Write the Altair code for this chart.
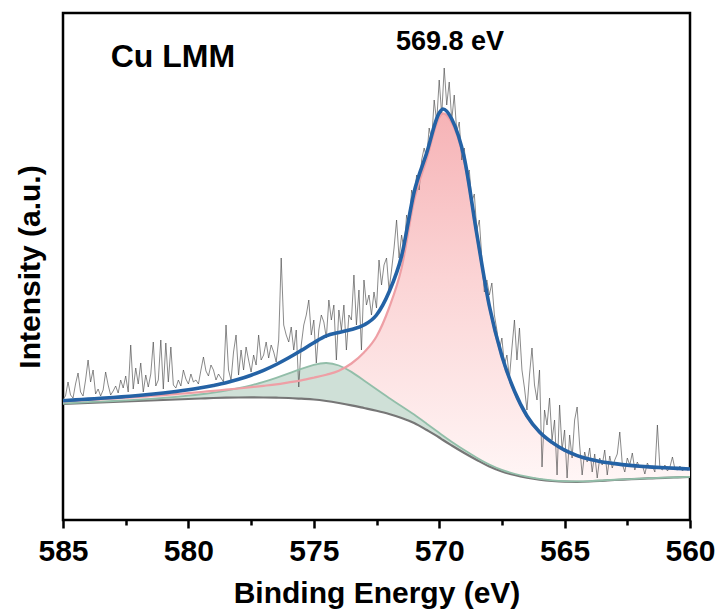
import altair as alt
import pandas as pd

# ---------------- data ----------------
# fitted curves, binding energy grid (eV)
E_fit = [585, 584.5, 584, 583.5, 583, 582.5, 582, 581.5, 581, 580.5, 580,
         579.5, 579, 578.5, 578, 577.5, 577, 576.5, 576, 575.5, 575,
         574.5, 574, 573.5, 573, 572.5, 572, 571.5, 571, 570.5, 570,
         569.85, 569.5, 569, 568.5, 568, 567.5, 567, 566.5, 566, 565.5,
         565, 564.5, 564, 563.5, 563, 562.5, 562, 561.5, 561, 560.5, 560]

background = [116, 116.5, 117, 117.5, 118, 118.5, 119, 119.5, 120, 120.5, 121,
              121.5, 122, 122.3, 122.5, 122.6, 122.5, 122.3, 122, 121.3, 120.5,
              119, 117, 114.7, 112, 109.2, 106, 102, 97, 90, 82.5,
              80, 74.5, 67, 60, 53.5, 48.5, 45, 42.3, 40.3, 39,
              38.3, 38.2, 38.5, 39.2, 40, 40.6, 41.2, 41.7, 42.2, 42.6, 43]

peak_main = [118.7, 119.4, 120.1, 120.8, 121.5, 122.3, 123.1, 124.0, 124.9, 125.9, 126.9,
             128.0, 129.2, 130.3, 131.5, 132.8, 134.2, 135.7, 137.6, 139.6, 142.3,
             145.3, 149.3, 156.5, 167.5, 183.5, 212, 252, 319.4, 360.7, 402.3,
             406.7, 397.4, 359.2, 283.8, 212.3, 162.6, 127.9, 103.1, 87.3, 77,
             69.3, 64, 60.3, 57.8, 56.1, 54.7, 53.6, 52.7, 52, 51.4, 50.9]

peak_sat = [116.6, 117.2, 117.8, 118.4, 119, 119.7, 120.4, 121.2, 122.1, 123.1, 124.3,
            125.7, 127.4, 129.3, 131.7, 134.6, 138, 142.1, 146.6, 151.3, 155.5,
            157.8, 155.2, 148.5, 139.5, 130.7, 122, 113.8, 105.6, 96.3, 87.2,
            84.3, 78.1, 69.8, 62.2, 55.2, 49.9, 46.1, 43.2, 41, 39.6,
            38.8, 38.6, 38.85, 39.5, 40.27, 40.84, 41.42, 41.9, 42.38, 42.76, 43.15]

envelope = [119.3, 120.1, 120.9, 121.7, 122.5, 123.5, 124.5, 125.7, 127, 128.5, 130.2,
            132.2, 134.6, 137.3, 140.7, 144.8, 149.7, 155.5, 162.2, 169.6, 177.3,
            184.1, 187.5, 190.5, 195, 205, 228, 264, 328, 367, 407,
            411, 401, 362, 286, 214, 164, 129, 104, 88, 77.6,
            69.8, 64.4, 60.65, 58.1, 56.4, 54.9, 53.8, 52.9, 52.2, 51.6, 51.05]

# raw spectrum, 0.1 eV steps from 585.0 down to 560.0
raw = [121, 124, 138, 125, 122, 136, 147, 128, 124, 140,
       160, 138, 150, 126, 131, 124, 130, 148, 135, 125,
       129, 134, 127, 140, 132, 144, 128, 175, 131, 152,
       136, 157, 128, 145, 133, 146, 178, 134, 140, 180,
       131, 177, 138, 173, 135, 132, 140, 134, 150, 141,
       136, 146, 138, 140, 136, 150, 163, 149, 144, 155,
       150, 140, 146, 142, 138, 195, 150, 140, 168, 185,
       145, 170, 150, 173, 160, 148, 165, 155, 185, 160,
       165, 178, 162, 175, 168, 158, 180, 262, 195, 185,
       178, 193, 170, 190, 133, 175, 195, 205, 220, 185,
       200, 157, 190, 205, 198, 182, 220, 200, 215, 160,
       210, 190, 215, 170, 205, 200, 245, 195, 230, 170,
       240, 215, 225, 205, 228, 212, 260, 235, 255, 262,
       230, 250, 272, 300, 262, 285, 270, 305, 292, 330,
       320, 345, 330, 360, 372, 362, 392, 380, 420, 398,
       440, 405, 452, 415, 438, 400, 425, 388, 398, 360,
       372, 345, 350, 318, 326, 290, 300, 262, 228, 240,
       225, 237, 205, 190, 170, 182, 155, 165, 142, 172,
       200, 160, 192, 150, 132, 110, 145, 172, 135, 120,
       150, 53, 110, 95, 122, 80, 100, 45, 115, 70,
       90, 42, 85, 62, 100, 113, 75, 45, 68, 58,
       72, 48, 66, 42, 62, 55, 70, 45, 64, 52,
       60, 66, 88, 56, 48, 62, 55, 67, 50, 58,
       52, 55, 46, 57, 52, 54, 48, 95, 52, 50,
       55, 49, 53, 63, 51, 50, 54, 49, 52, 50,
       51]
raw_E = [round(585 - 0.1 * i, 1) for i in range(len(raw))]

major_ticks = [585, 580, 575, 570, 565, 560]
minor_ticks = [582.5, 577.5, 572.5, 567.5, 562.5]

labels_text = ["Cu LMM", "569.8 eV"]
labels_E = [583.1, 569.57]
labels_I = [463, 478]

# ---------------- chart ----------------
fit = pd.DataFrame({"E": E_fit, "bg": background, "pink": peak_main,
                    "green": peak_sat, "blue": envelope})
rawdf = pd.DataFrame({"E": raw_E, "I": raw})

FONT = "Liberation Sans"
xs = alt.Scale(domain=[560, 585], reverse=True, nice=False, zero=False)
ys = alt.Scale(domain=[0, 507], nice=False, zero=False)

x_none = alt.X("E:Q", scale=xs, axis=None)

main_x_axis = alt.Axis(values=major_ticks, format="d", orient="bottom", domain=False,
                       grid=False, tickSize=8, tickWidth=2.5, tickColor="black",
                       labelFontSize=30, labelFont=FONT, labelFontWeight="bold",
                       labelColor="black", labelPadding=8, labelFlush=False,
                       title="Binding Energy (eV)", titleFontSize=30, titleFont=FONT,
                       titleFontWeight="bold", titleColor="black", titlePadding=12)
minor_x_axis = alt.Axis(values=minor_ticks, orient="bottom", domain=False, grid=False,
                        labels=False, tickSize=5, tickWidth=2.5, tickColor="black",
                        title="")
y_axis = alt.Axis(orient="left", domain=False, ticks=False, labels=False, grid=False,
                  title="Intensity (a.u.)", titleFontSize=30, titleFont=FONT,
                  titleFontWeight="bold", titleColor="black", titlePadding=18)

pink_grad = alt.Gradient(gradient="linear",
                         stops=[alt.GradientStop(color="#f6b3b6", offset=0),
                                alt.GradientStop(color="#fbd4d5", offset=0.45),
                                alt.GradientStop(color="#fff6f6", offset=1)],
                         x1=1, x2=1, y1=0, y2=1)

pink_area = alt.Chart(fit).mark_area(color=pink_grad, interpolate="monotone").encode(
    x=x_none, y=alt.Y("pink:Q", scale=ys, axis=y_axis), y2="bg:Q")
green_area = alt.Chart(fit).mark_area(color="#cfe0d7", interpolate="basis").encode(
    x=x_none, y=alt.Y("green:Q", scale=ys, axis=None), y2="bg:Q")
raw_line = alt.Chart(rawdf).mark_line(color="#4a4a4a", strokeWidth=0.65).encode(
    x=alt.X("E:Q", scale=xs, axis=main_x_axis), y=alt.Y("I:Q", scale=ys, axis=None))
bg_line = alt.Chart(fit).mark_line(color="#767676", strokeWidth=2.2, interpolate="monotone").encode(
    x=alt.X("E:Q", scale=xs, axis=minor_x_axis), y=alt.Y("bg:Q", scale=ys, axis=None))
green_line = alt.Chart(fit).mark_line(color="#92bea9", strokeWidth=1.8, interpolate="basis").encode(
    x=x_none, y=alt.Y("green:Q", scale=ys, axis=None))
pink_line = alt.Chart(fit).mark_line(color="#ee9fa5", strokeWidth=2.2, interpolate="monotone").encode(
    x=x_none, y=alt.Y("pink:Q", scale=ys, axis=None))
blue_line = alt.Chart(fit).mark_line(color="#2462a5", strokeWidth=3.6, interpolate="monotone").encode(
    x=x_none, y=alt.Y("blue:Q", scale=ys, axis=None))

txt = pd.DataFrame({"E": labels_E, "I": labels_I, "t": labels_text})
cu_text = alt.Chart(txt.iloc[[0]]).mark_text(align="left", baseline="middle", fontSize=32,
                                             fontWeight="bold", font=FONT, color="black").encode(
    x=x_none, y=alt.Y("I:Q", scale=ys, axis=None), text="t:N")
pk_text = alt.Chart(txt.iloc[[1]]).mark_text(align="center", baseline="middle", fontSize=27,
                                             fontWeight="bold", font=FONT, color="black").encode(
    x=x_none, y=alt.Y("I:Q", scale=ys, axis=None), text="t:N")

chart = alt.layer(pink_area, green_area, raw_line, bg_line, green_line, pink_line,
                  blue_line, cu_text, pk_text).resolve_axis(
    x="independent", y="independent"
).properties(
    width=627, height=507,
    autosize=alt.AutoSizeParams(type="none"),
    padding={"left": 63, "top": 13, "right": 31, "bottom": 92},
    background="white",
).configure_view(stroke="black", strokeWidth=2.5)

chart.save("out.html", embed_options={"renderer": "svg", "actions": False})
